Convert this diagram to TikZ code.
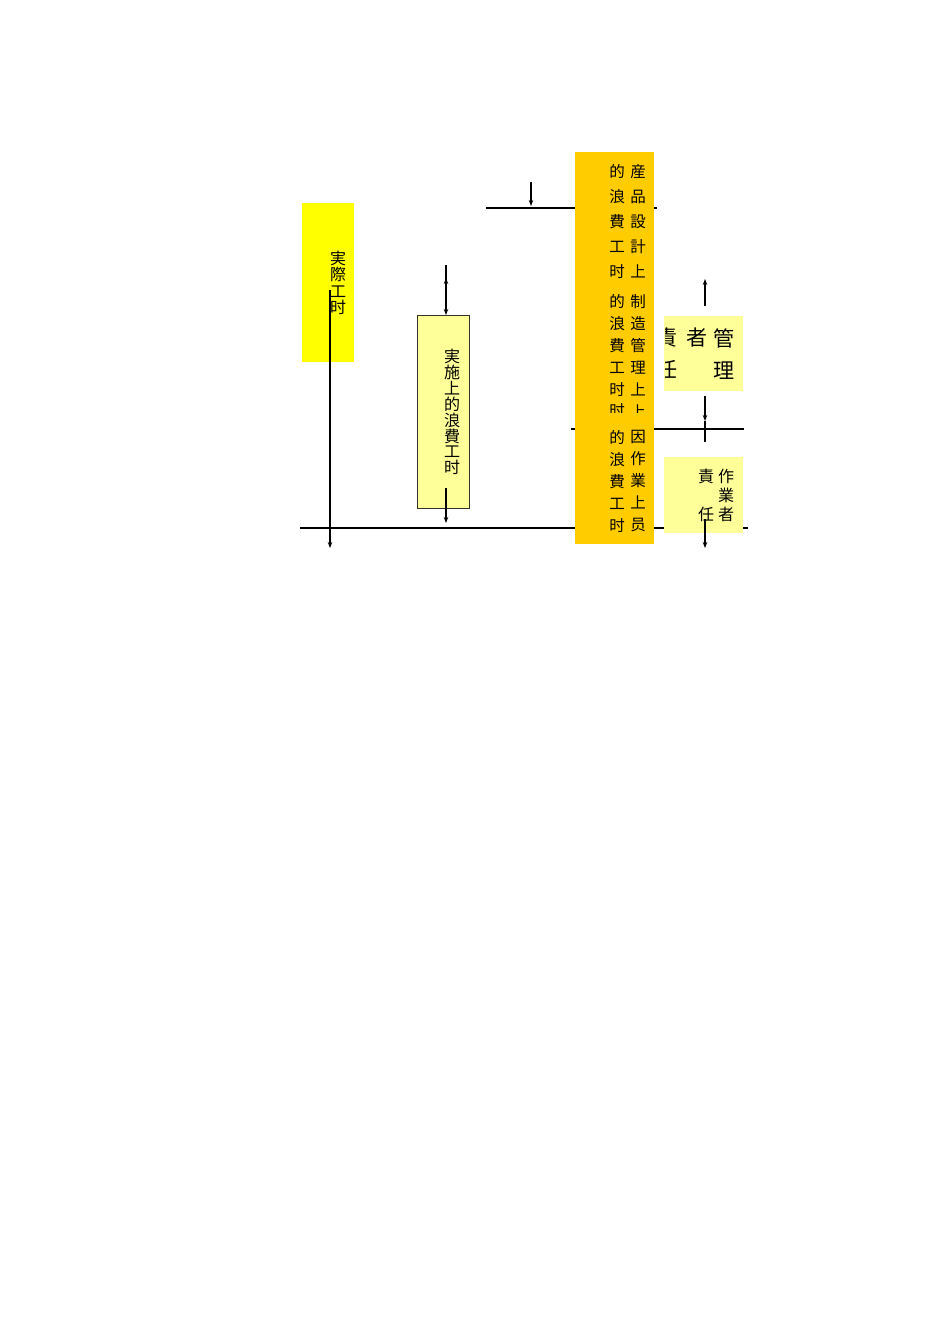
\documentclass[tikz,border=0pt]{standalone}
\usepackage{fontspec}
\setmainfont{Noto Sans CJK JP}
\usetikzlibrary{arrows.meta}
\definecolor{brightyel}{HTML}{FFFF00}
\definecolor{lightyel}{HTML}{FFFF99}
\definecolor{orangebox}{HTML}{FFCC00}
\begin{document}
\begin{tikzpicture}[x=1pt,y=-1pt,
  conn/.style={line width=1.8pt},
  arr/.style={line width=1.4pt,-{Stealth[length=6pt,width=4.5pt]}},
  box/.style={anchor=north west,inner sep=0pt,outer sep=0pt},
  txt/.style={inner sep=0pt,align=center}]
\useasboundingbox[fill=white] (0,0) rectangle (950,1344);
% horizontal lines (behind boxes)
\coordinate (tl1) at (486,208); \coordinate (tl2) at (657,208);
\coordinate (ml1) at (571,429); \coordinate (ml2) at (744,429);
\coordinate (bl1) at (300,528); \coordinate (bl2) at (748,528);
\draw[conn] (tl1) -- (tl2);
\draw[conn] (ml1) -- (ml2);
\draw[conn] (bl1) -- (bl2);
% boxes
\node[box,fill=brightyel,minimum width=52pt,minimum height=159pt] (act) at (302,203) {};
\node[box,fill=lightyel,draw=black!80!olive,line width=0.9pt,minimum width=52pt,minimum height=193pt] (waste) at (417,315) {};
\node[box,fill=orangebox,minimum width=79pt,minimum height=392pt] (org) at (575,152) {};
\node[box,fill=lightyel,minimum width=79pt,minimum height=75pt] (mgr) at (664,316) {};
\node[box,fill=lightyel,minimum width=79pt,minimum height=76pt] (wrk) at (664,457) {};
% texts
\node[txt,font=\fontsize{16}{16.5}\selectfont] (tact) at (338,283) {実\\際\\工\\时};
\node[txt,font=\fontsize{16}{15.9}\selectfont] (twaste) at (452,412) {実\\施\\上\\的\\浪\\費\\工\\时};
\node[txt,font=\fontsize{15.5}{25}\selectfont] (o1l) at (617,221) {的\\浪\\費\\工\\时};
\node[txt,font=\fontsize{15.5}{25}\selectfont] (o1r) at (638,221) {産\\品\\設\\計\\上};
\node[txt,font=\fontsize{15.5}{22}\selectfont] (o2l) at (617,345) {的\\浪\\費\\工\\时};
\node[txt,font=\fontsize{15.5}{22}\selectfont] (o2r) at (638,345) {制\\造\\管\\理\\上};
\node[txt,font=\fontsize{15.5}{22}\selectfont] (o3l) at (617,481) {的\\浪\\費\\工\\时};
\node[txt,font=\fontsize{15.5}{22}\selectfont] (o3r) at (638,481) {因\\作\\業\\上\\员};
\begin{scope}
  \clip (600,403) rectangle (660,412.5);
  \node[txt,font=\fontsize{15.5}{22}\selectfont] (o4l) at (617,411) {时};
  \node[txt,font=\fontsize{15.5}{22}\selectfont] (o4r) at (638,411) {上};
\end{scope}
\node[txt,font=\fontsize{21}{32}\selectfont] (m1) at (724,354) {管\\理};
\node[txt,font=\fontsize{21}{32}\selectfont] (m2) at (697,338) {者};
\begin{scope}
  \clip (665.5,316) rectangle (690,391);
  \node[txt,font=\fontsize{21}{32}\selectfont] (m3) at (667,354) {責\\任};
\end{scope}
\node[txt,font=\fontsize{16}{19}\selectfont] (w1) at (726,495) {作\\業\\者};
\node[txt,font=\fontsize{16}{38}\selectfont] (w2) at (706,495) {責\\任};
% arrows
\coordinate (a1s) at (330,290); \coordinate (a1e) at (330,548);
\draw[arr] (a1s) -- (a1e);
\coordinate (a2s) at (446,265); \coordinate (a2e) at (446,315);
\draw[arr,line width=2pt] (a2s) -- (a2e);
\coordinate (a2u) at (446,300); \coordinate (a2t) at (446,278);
\draw[arr] (a2u) -- (a2t);
\coordinate (a3s) at (446,488); \coordinate (a3e) at (446,523);
\draw[arr] (a3s) -- (a3e);
\coordinate (a4s) at (531,182); \coordinate (a4e) at (531,206);
\draw[arr] (a4s) -- (a4e);
\coordinate (a5s) at (705,306); \coordinate (a5e) at (705,279);
\draw[arr] (a5s) -- (a5e);
\coordinate (a6s) at (705,396); \coordinate (a6m) at (705,421); \coordinate (a6e) at (705,442);
\draw[arr] (a6s) -- (a6m);
\draw[line width=1.4pt] (a6m) -- (a6e);
\coordinate (a7s) at (705,519); \coordinate (a7e) at (705,548);
\draw[arr] (a7s) -- (a7e);
\end{tikzpicture}
\end{document}
